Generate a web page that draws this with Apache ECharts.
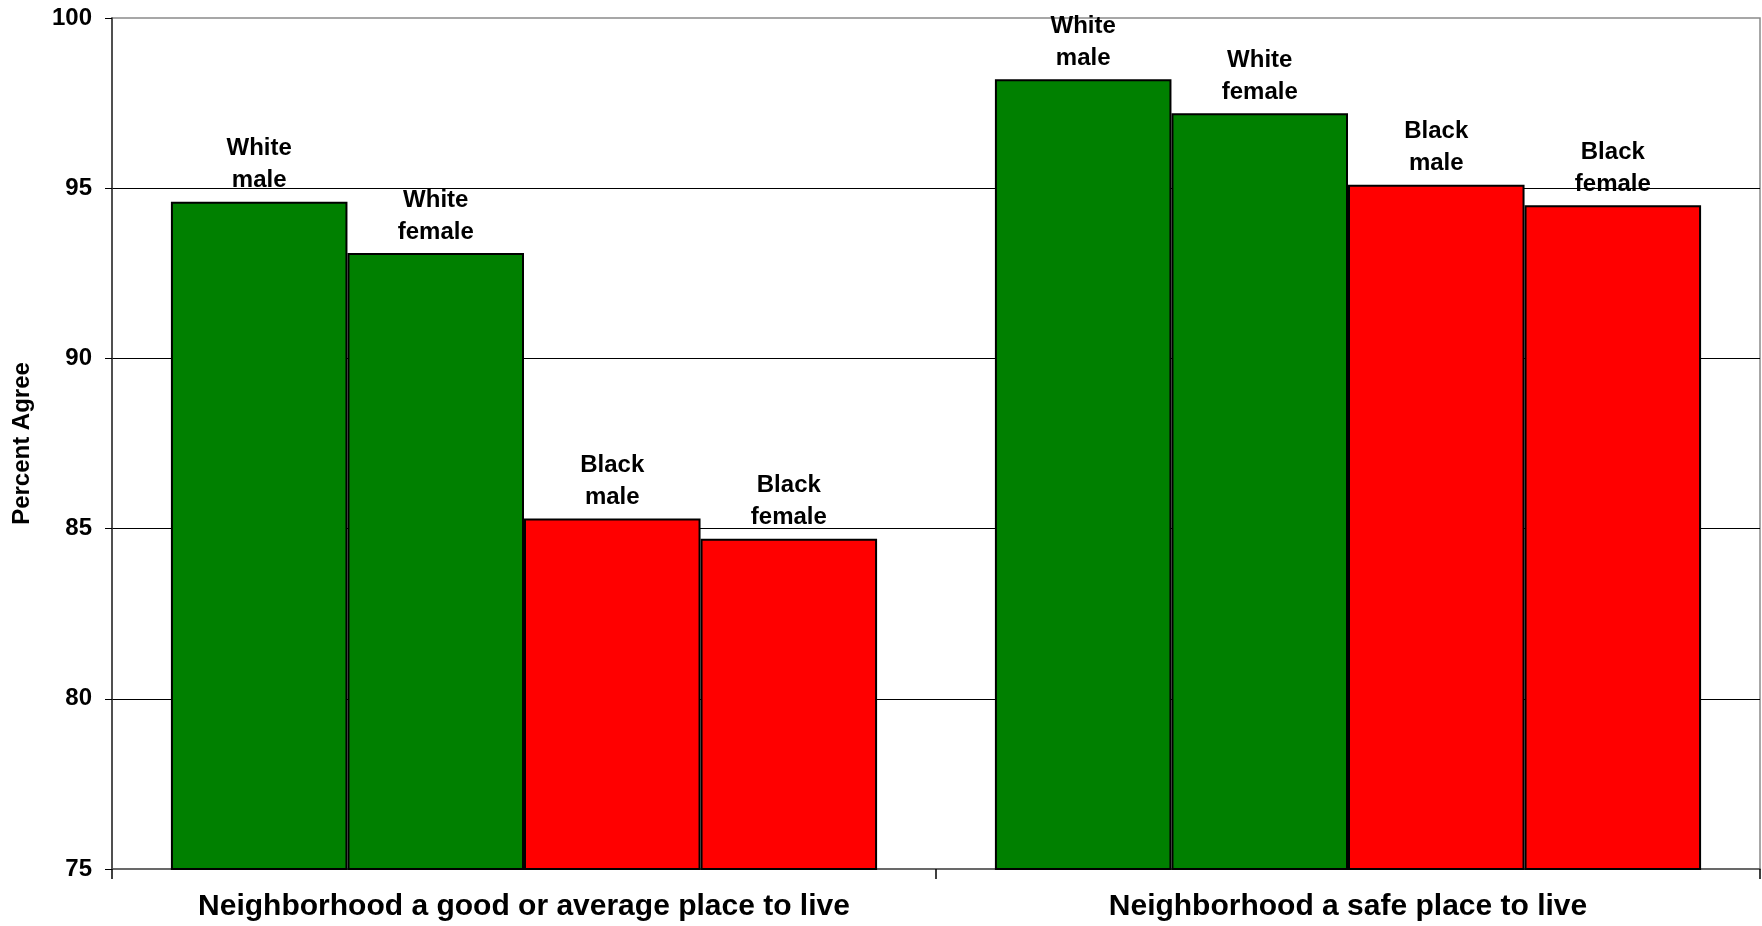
<!DOCTYPE html>
<html>
<head>
<meta charset="utf-8">
<script src="https://cdn.jsdelivr.net/npm/echarts@6/dist/echarts.min.js"></script>
<style>
  html, body { margin: 0; padding: 0; background: #fff; }
  #chart { width: 1762px; height: 926px; }
</style>
</head>
<body>
<div id="chart"></div>
<script>
const categories = ['Neighborhood a good or average place to live', 'Neighborhood a safe place to live'];
const seriesNames = ['White male', 'White female', 'Black male', 'Black female'];
const whiteMale = [94.6, 98.2];
const whiteFemale = [93.1, 97.2];
const blackMale = [85.3, 95.1];
const blackFemale = [84.7, 94.5];
const yTicks = { min: 75, max: 100, interval: 5 };
const seriesColors = ['#008000', '#008000', '#FF0000', '#FF0000'];

const FONT = '"Liberation Sans", Arial, sans-serif';
const values = [whiteMale, whiteFemale, blackMale, blackFemale];

const chart = echarts.init(document.getElementById('chart'), null, { renderer: 'canvas' });
chart.setOption({
  animation: false,
  backgroundColor: '#fff',
  grid: {
    left: 112, right: 2, top: 18, bottom: 57,
    show: true, borderColor: '#8a8a8a', borderWidth: 1.5, backgroundColor: 'transparent'
  },
  xAxis: {
    type: 'category',
    data: categories,
    axisLine: { lineStyle: { color: '#555', width: 1.5 } },
    axisTick: { show: true, length: 10, lineStyle: { color: '#000', width: 1.5 } },
    axisLabel: { fontFamily: FONT, fontWeight: 'bold', fontSize: 30, color: '#000', margin: 23, interval: 0 }
  },
  yAxis: {
    type: 'value',
    min: yTicks.min, max: yTicks.max, interval: yTicks.interval,
    name: 'Percent Agree',
    nameLocation: 'middle',
    nameGap: 78,
    nameTextStyle: { fontFamily: FONT, fontWeight: 'bold', fontSize: 24, color: '#000' },
    axisLine: { show: true, lineStyle: { color: '#333', width: 1.5 } },
    axisTick: { show: true, length: 7, lineStyle: { color: '#000' } },
    axisLabel: { fontFamily: FONT, fontWeight: 'bold', fontSize: 24, color: '#000', margin: 20 },
    splitLine: { show: true, showMinLine: false, showMaxLine: false, lineStyle: { color: '#000', width: 1 } }
  },
  series: seriesNames.map((name, i) => ({
    name: name,
    type: 'bar',
    data: values[i],
    barGap: '0%',
    barCategoryGap: '14.3%',
    itemStyle: { color: seriesColors[i], borderColor: '#000', borderWidth: 2 },
    label: {
      show: true,
      position: 'top',
      distance: 5,
      formatter: (p) => p.seriesName.replace(' ', '\n'),
      fontFamily: FONT, fontWeight: 'bold', fontSize: 24, lineHeight: 32, color: '#000', align: 'center'
    }
  }))
});
</script>
</body>
</html>
